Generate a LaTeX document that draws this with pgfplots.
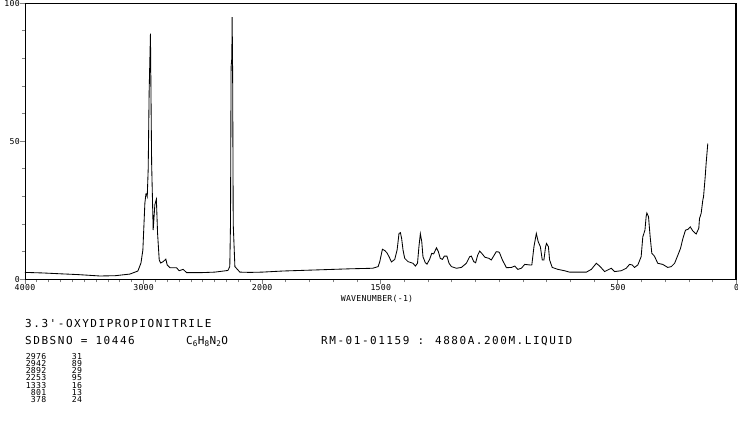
\documentclass[border=0pt]{standalone}
\usepackage{pgfplots}
\pgfplotsset{compat=1.18}
\usepackage{pgfplotstable}
\usepackage{fontspec}
\newfontfamily\pf{DejaVu Sans Mono}[Ligatures=TeXOff]
\newcommand\ticklbl{\pf\fontsize{8.2bp}{9bp}\selectfont\addfontfeature{LetterSpace=3}}
\newcommand\bigtxt{\pf\fontsize{11bp}{13bp}\selectfont\addfontfeature{LetterSpace=14}}
\pgfplotstableread{
w I
4000 2.5
3850 2.3
3705 2.0
3550 1.7
3368 1.2
3240 1.3
3115 1.9
3048 3.0
3022 5.9
3006 10.6
2989 27.6
2980 31
2976 31
2969 30
2961 40
2953 68
2942 89
2936 60
2932 42
2919 17.8
2905 27
2892 29
2882 16.7
2868 7
2856 5.9
2835 6.4
2812 7.3
2801 5.2
2778 4.2
2722 4.2
2700 3.1
2666 3.6
2637 2.4
2525 2.4
2399 2.6
2289 3.2
2273 4.6
2267 20
2262 77
2256 80
2253 95
2249 75
2244 20
2230 4.6
2188 2.6
2104 2.5
2000 2.6
1913 3.0
1770 3.4
1631 3.8
1534 4.0
1511 4.6
1504 6.4
1493 10.9
1483 10.4
1474 9.6
1465 8.2
1455 6.3
1441 7.2
1431 10.6
1423 16.6
1417 16.9
1412 14.8
1406 10.6
1399 7.6
1385 6.4
1364 5.8
1354 4.8
1345 5.8
1339 11.8
1333 16.5
1327 13.6
1322 8.2
1312 6.0
1305 5.5
1294 7.2
1285 9.4
1277 9.2
1265 11.4
1257 10.0
1249 7.6
1240 7.2
1232 8.4
1221 8.4
1212 5.8
1202 4.6
1181 4.0
1160 4.3
1139 5.8
1125 8.2
1118 8.4
1108 6.4
1100 6.0
1091 8.8
1083 10.2
1072 9.2
1061 8.0
1044 7.6
1034 7.0
1024 8.4
1013 10.0
1002 9.9
999 9.6
987 7.0
970 4.2
949 4.3
935 4.8
922 3.6
907 4.0
893 5.4
872 5.2
863 5.2
854 11.8
844 16.6
836 13.6
827 11.8
819 7.0
812 7.0
805 11.8
801 13
793 11.8
788 7.0
777 4.3
753 3.6
725 3.1
704 2.6
633 2.6
612 3.6
591 5.8
577 4.8
556 2.8
542 3.4
528 4.0
514 2.8
486 3.1
465 4.0
451 5.4
440 5.2
430 4.3
416 5.2
402 8.2
395 15.4
386 17.8
381 22.7
378 24
371 22.7
364 15.4
357 9.4
346 8.4
332 5.8
311 5.4
290 4.3
275 4.6
261 5.8
247 8.8
236 11.2
226 14.8
215 17.8
205 18.1
195 19.0
184 17.5
170 16.4
159 18.5
156 22
149 23.9
142 28.7
139 29.9
132 37.1
128 42
121 49.2
}\spectrum
\begin{document}
\begin{tikzpicture}
\path[use as bounding box] (0,0) rectangle (738bp,428bp);
\begin{axis}[
  at={(25bp,148.7bp)}, anchor=south west,
  scale only axis, width=711.5bp, height=276bp,
  xmin=0, xmax=3000, ymin=0, ymax=100,
  x dir=reverse, clip=false,
  axis line style={line width=0.9bp},
  tick align=outside, tick pos=left,
  major tick length=5bp, minor tick length=3bp,
  tick style={line width=0.9bp},
  xtick={0,500,1500,2000,2500,3000},
  xticklabels={0,500,1500,2000,3000,4000},
  minor xtick={100,200,...,2000,2050,2100,...,3000},
  ytick={0,50,100},
  minor ytick={10,20,...,90},
  xticklabel style={font=\ticklbl, inner sep=0pt, anchor=north},
  yticklabel style={font=\ticklbl, inner sep=0pt, anchor=east},
  /pgf/number format/assume math mode=true,
]
\addplot[black, line width=0.85bp, mark=none] table[x expr={min(\thisrow{w},2000)+0.5*max(\thisrow{w}-2000,0)}, y=I] {\spectrum};
\end{axis}
\draw[black, line width=1.5bp] (24.5bp,424.3bp) -- (736.2bp,424.3bp) -- (736.2bp,148.7bp);
\node[font=\ticklbl, anchor=base, inner sep=0pt] at (377bp,126.3bp) {WAVENUMBER(-1)};
\node[font=\bigtxt, anchor=base west, inner sep=0pt] at (25bp,100bp) {3.3'-OXYDIPROPIONITRILE};
\node[font=\bigtxt, anchor=base west, inner sep=0pt] at (25bp,83.7bp) {SDBSNO = 10446};
\node[font=\bigtxt, anchor=base west, inner sep=0pt] at (186bp,83.7bp) {C\textsubscript{6}H\textsubscript{8}N\textsubscript{2}O};
\node[font=\bigtxt, anchor=base west, inner sep=0pt] at (321bp,83.7bp) {RM-01-01159 : 4880A.200M.LIQUID};
\foreach \a/\b [count=\i from 0] in {2976/31,2942/89,2892/29,2253/95,1333/16,801/13,378/24}{
  \node[font=\ticklbl, anchor=base east, inner sep=0pt] at (46.5bp,{68.7bp-\i*7.23bp}) {\a};
  \node[font=\ticklbl, anchor=base west, inner sep=0pt] at (71.7bp,{68.7bp-\i*7.23bp}) {\b};
}
\end{tikzpicture}
\end{document}
